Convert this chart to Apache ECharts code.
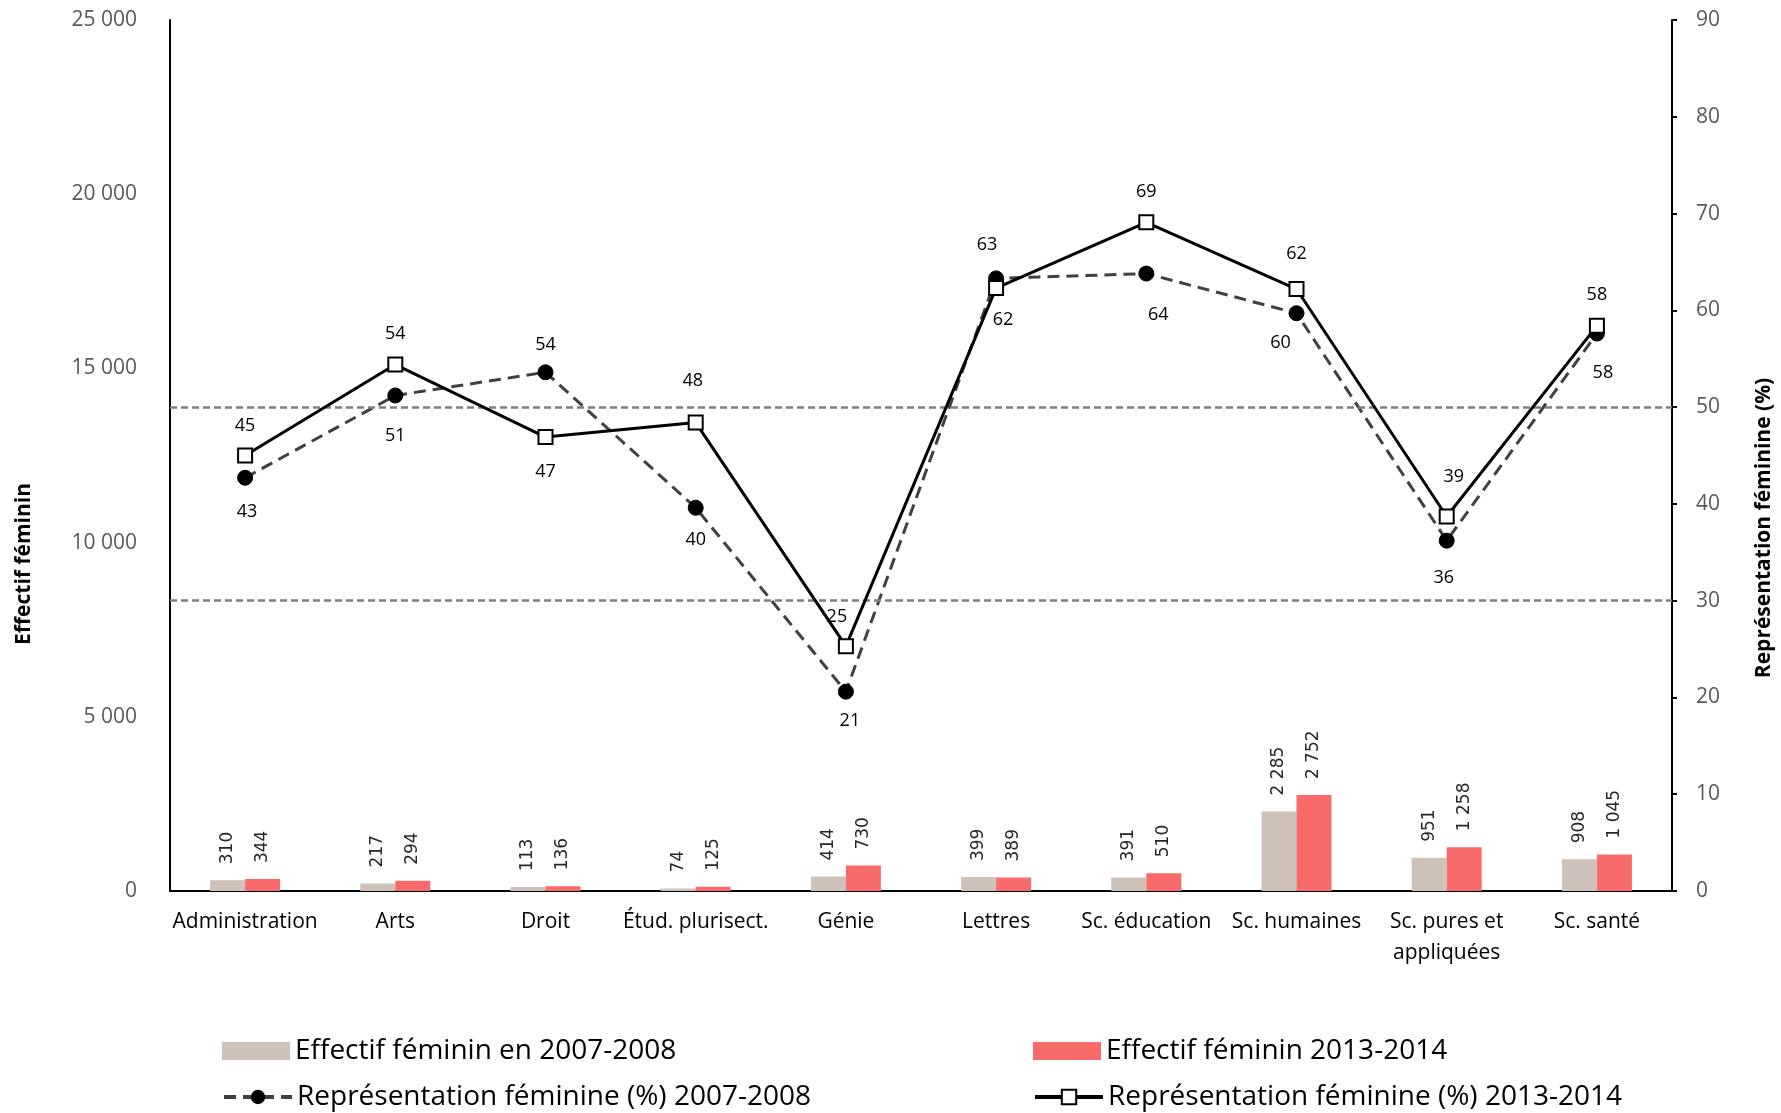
<!DOCTYPE html>
<html>
<head>
<meta charset="utf-8">
<script src="https://cdn.jsdelivr.net/npm/echarts@6/dist/echarts.min.js"></script>
<style>
html,body{margin:0;padding:0;background:#fff;}
#chart{width:1781px;height:1113px;}
</style>
</head>
<body>
<div id="chart"></div>
<script>
const categories = ['Administration','Arts','Droit','Étud. plurisect.','Génie','Lettres','Sc. éducation','Sc. humaines','Sc. pures et\nappliquées','Sc. santé'];
const effectif2007 = [310,217,113,74,414,399,391,2285,951,908];
const effectif2013 = [344,294,136,125,730,389,510,2752,1258,1045];
const repr2007 = [42.7,51.2,53.6,39.6,20.6,63.3,63.8,59.7,36.2,57.6];
const repr2013 = [45.0,54.4,46.9,48.4,25.3,62.3,69.1,62.2,38.7,58.4];
const leftTicks = {min:0, max:25000, interval:5000};
const rightTicks = {min:0, max:90, interval:10};
const referenceLines = [30, 50];

const names = ['Effectif féminin en 2007-2008','Effectif féminin 2013-2014','Représentation féminine (%) 2007-2008','Représentation féminine (%) 2013-2014'];

function thousands(v){ return String(v).replace(/\B(?=(\d{3})+(?!\d))/g,' '); }

// label placement (which side of the point, and small nudges)
const pos2007 = ['bottom','bottom','top','bottom','bottom','top','bottom','bottom','bottom','bottom'];
const pos2013 = ['top','top','bottom','top','top','bottom','top','top','top','top'];
const off2007 = [[2,5],[0,11],[0,2],[0,3],[4,0],[-9,-5],[12,12],[-16,1],[-3,8],[6,10]];
const off2013 = [[0,-1],[0,-2],[0,6],[-3,-13],[-9,0],[7,3],[0,-1],[0,-6],[7,-11],[0,-2]];

const F = '"Open Sans", sans-serif';

const chart = echarts.init(document.getElementById('chart'));
const barLabel = {
  show:true, position:'top', rotate:90, align:'left', verticalAlign:'middle', distance:16,
  fontFamily:'"DejaVu Sans", sans-serif', fontSize:17, color:'#262626',
  formatter: p => thousands(p.value)
};
const lineLabelBase = {show:true, fontFamily:F, fontSize:18, color:'#000', distance:12, formatter:p=>Math.round(p.value)};

chart.setOption({
  animation:false,
  backgroundColor:'#fff',
  grid:{left:170, right:109, top:20, bottom:222},
  legend:[
    {left:222, top:1037, padding:0, itemWidth:68, itemHeight:18, icon:'rect', data:[names[0]], textStyle:{fontFamily:F, fontSize:28, color:'#000'}},
    {left:1033, top:1037, padding:0, itemWidth:68, itemHeight:18, icon:'rect', data:[names[1]], textStyle:{fontFamily:F, fontSize:28, color:'#000'}},
    {left:222, top:1083, padding:0, itemWidth:68, itemHeight:18, data:[names[2]], lineStyle:{width:4}, textStyle:{fontFamily:F, fontSize:28, color:'#000'}},
    {left:1033, top:1083, padding:0, itemWidth:68, itemHeight:18, data:[names[3]], lineStyle:{width:4}, textStyle:{fontFamily:F, fontSize:28, color:'#000'}}
  ],
  xAxis:{
    type:'category', data:categories,
    axisLine:{show:true, lineStyle:{color:'#000', width:2}},
    axisTick:{show:false},
    axisLabel:{fontFamily:F, fontSize:21, color:'#000', margin:16, lineHeight:31, interval:0}
  },
  yAxis:[
    {type:'value', min:leftTicks.min, max:leftTicks.max, interval:leftTicks.interval,
     axisLine:{show:true, lineStyle:{color:'#000', width:2}}, axisTick:{show:false}, splitLine:{show:false},
     axisLabel:{fontFamily:F, fontSize:21, color:'#595959', margin:33, formatter:v=>thousands(v)}},
    {type:'value', min:rightTicks.min, max:rightTicks.max, interval:rightTicks.interval, position:'right',
     axisLine:{show:true, lineStyle:{color:'#000', width:2}}, axisTick:{show:true, length:5, lineStyle:{color:'#000', width:2}}, splitLine:{show:false},
     axisLabel:{fontFamily:F, fontSize:21, color:'#595959', margin:24}}
  ],
  graphic:[
    {type:'text', x:24, y:564, rotation:Math.PI/2, style:{text:'Effectif féminin', font:'bold 21px "Open Sans"', fill:'#000', textAlign:'center', textVerticalAlign:'middle'}},
    {type:'text', x:1764, y:528, rotation:Math.PI/2, style:{text:'Représentation féminine (%)', font:'bold 21px "Open Sans"', fill:'#000', textAlign:'center', textVerticalAlign:'middle'}}
  ],
  series:[
    {name:names[0], type:'bar', yAxisIndex:0, data:effectif2007, barWidth:35, barGap:'0%', itemStyle:{color:'#cdc1b9'}, label:barLabel, z:2},
    {name:names[1], type:'bar', yAxisIndex:0, data:effectif2013, barWidth:35, barGap:'0%', itemStyle:{color:'#f96b6b'}, label:barLabel, z:2},
    {name:names[2], type:'line', yAxisIndex:1, z:4,
     data: repr2007.map((v,i)=>({value:v, label:{position:pos2007[i], offset:off2007[i]}})),
     symbol:'circle', symbolSize:15, itemStyle:{color:'#000', borderColor:'#000'},
     lineStyle:{color:'#404040', width:3, type:[12,7]},
     label:Object.assign({}, lineLabelBase),
     markLine:{silent:true, symbol:'none', label:{show:false}, lineStyle:{color:'#7f7f7f', width:2.5, type:[7,4]},
       data: referenceLines.map(v=>({yAxis:v}))}
    },
    {name:names[3], type:'line', yAxisIndex:1, z:5,
     data: repr2013.map((v,i)=>({value:v, label:{position:pos2013[i], offset:off2013[i]}})),
     symbol:'rect', symbolSize:14, itemStyle:{color:'#fff', borderColor:'#000', borderWidth:2},
     lineStyle:{color:'#000', width:3, type:'solid'},
     label:Object.assign({}, lineLabelBase)
    }
  ]
});
</script>
</body>
</html>
